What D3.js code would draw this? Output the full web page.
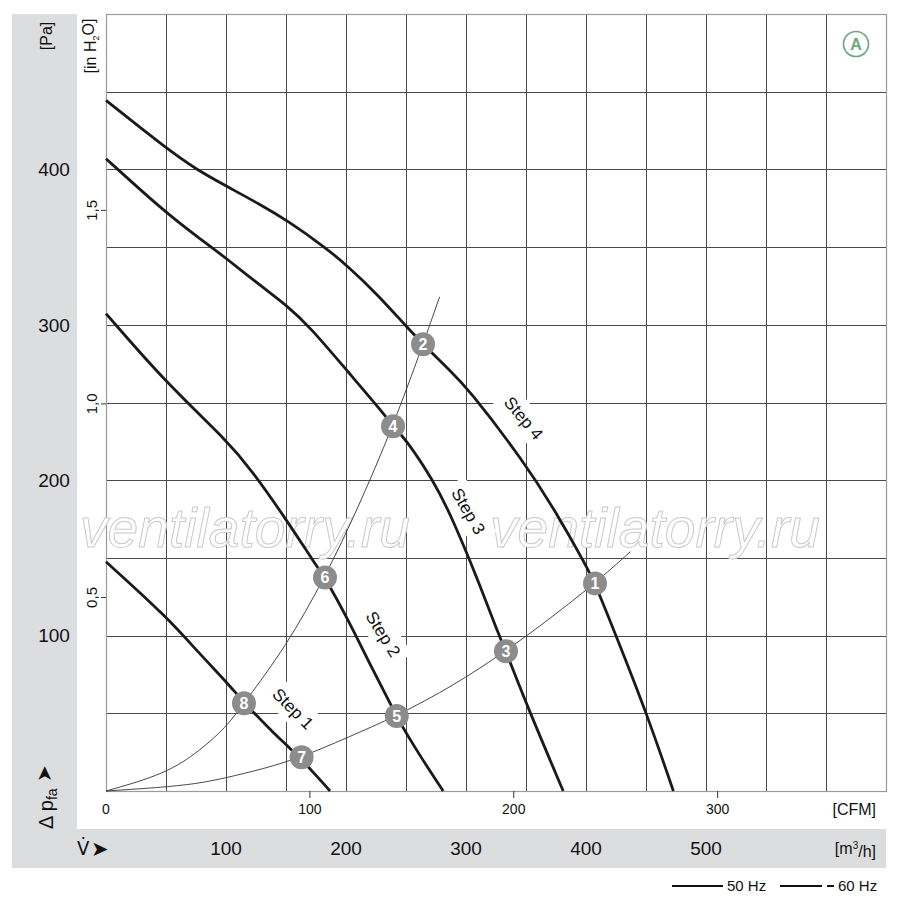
<!DOCTYPE html>
<html><head><meta charset="utf-8">
<script src="https://cdn.jsdelivr.net/npm/d3@7/dist/d3.min.js"></script>
<style>body{margin:0;background:#fff}svg{display:block}</style></head>
<body><svg id="chart" width="900" height="898"></svg>
<script>
// ---- data (flow m³/h, static pressure Pa) ----
const step1 = [[0,147.5],[50.6,112.1],[78.3,88],[100.6,70],[115,56.8],[140,37],[163,20.5],[186.7,0]];
const step2 = [[0,307.2],[50.6,262.2],[100.6,225.7],[121.4,206.4],[150.6,174.3],[174.2,146.1],[182.5,137.2],[200.6,112.1],[222.8,77.2],[238.1,54.6],[242.3,47.5],[260.3,24.2],[281,0]];
const step3 = [[0,406.9],[50.6,371.5],[78.3,355.4],[100.6,342.6],[128.3,325.4],[150.6,312.5],[170,298.6],[200.6,270.7],[230.8,243.5],[239.2,234.7],[250.6,225.7],[272.5,200],[286.7,178.8],[309,137.8],[328.3,98.4],[333.3,90],[350.6,55.3],[381,0]];
const step4 = [[0,444.4],[50.6,413.3],[75.6,399.8],[100.6,389.1],[128.3,377.5],[150.6,367.4],[183.9,349.1],[200.6,338.3],[225.6,320.1],[250.6,298.6],[264.2,287.5],[286.7,270.5],[300.6,260],[347.5,212.9],[375.6,178.8],[400.6,144.2],[407.5,133.6],[424.2,101.6],[450.6,50],[472.8,0]];
const systemHigh = [[0,0],[50,11],[78.3,26],[100,41],[115,56.4],[150,93],[182.5,137.4],[210,182],[239.2,234.7],[264.2,287.5],[278,318]];
const systemLow = [[0,0],[50,2.5],[78.3,5],[100,8.5],[130,14],[163,21.7],[200,34],[242.3,48.2],[290,68],[333.3,90],[370,111],[407.5,133.6],[437,154]];
const markerIds = [1,2,3,4,5,6,7,8];
const markerFlow = [407.5,264.2,333.3,239.2,242.3,182.5,163,115];
const markerPressure = [133.6,287.5,90,234.7,48.2,137.4,21.7,56.4];
const stepNames = ["Step 1","Step 2","Step 3","Step 4"];
const paTicks = [100,200,300,400];
const inH2OTicks = [0.5,1.0,1.5];
const inH2OLabels = ["0,5","1,0","1,5"];
const cfmTicks = [0,100,200,300];
const m3hTicks = [100,200,300,400,500];

// ---- layout ----
const L=106,R=886,T=14,B=791;
const x = d3.scaleLinear().domain([0,650]).range([L,R]);
const y = d3.scaleLinear().domain([0,500]).range([B,T]);
const xCFM = d3.scaleLinear().domain([0,650/1.699]).range([L,R]);
const yIn = d3.scaleLinear().domain([0,500/249.09]).range([B,T]);
const FONT = "'Liberation Sans', Arial, sans-serif";
const NARROW = "'Liberation Sans Narrow','Liberation Sans', Arial, sans-serif";

const svg = d3.select("#chart");
svg.append("rect").attr("width",900).attr("height",898).attr("fill","#fff");

// grey bands
svg.append("rect").attr("x",12).attr("y",14).attr("width",65).attr("height",815).attr("fill","#dcdddf");
svg.append("rect").attr("x",12).attr("y",829).attr("width",874).attr("height",39).attr("fill","#dcdddf");

// grid
const g = svg.append("g");
g.selectAll("line.vx").data(d3.range(50,650,50)).join("line")
  .attr("x1",d=>Math.round(x(d))+0.5).attr("x2",d=>Math.round(x(d))+0.5)
  .attr("y1",T).attr("y2",B).attr("stroke","#4a4a4a").attr("stroke-width",1);
g.selectAll("line.hy").data(d3.range(50,500,50)).join("line")
  .attr("y1",d=>Math.round(y(d))+0.5).attr("y2",d=>Math.round(y(d))+0.5)
  .attr("x1",L).attr("x2",R).attr("stroke","#4a4a4a").attr("stroke-width",1);
g.append("rect").attr("x",L+0.5).attr("y",T+0.5).attr("width",R-L).attr("height",B-T)
  .attr("fill","none").attr("stroke","#9a9a9a").attr("stroke-width",1.2);

// watermark
[80,490].forEach(wx=>{
  svg.append("text").attr("x",wx).attr("y",547).text("ventilatorry.ru")
    .attr("font-family",NARROW).attr("font-style","italic").attr("font-size",56)
    .attr("textLength",330).attr("lengthAdjust","spacingAndGlyphs")
    .attr("fill","#fff").attr("stroke","#c9c9c9").attr("stroke-width",1);
});

// step labels: white backgrounds
const labelPos = [[156,53,45],[231,101,58],[302,180,60],[348,240,50]]; // flow, pressure, angle
labelPos.forEach((p)=>{
  svg.append("rect").attr("x",-32).attr("y",-14).attr("width",64).attr("height",28)
    .attr("fill","#fff")
    .attr("transform",`translate(${x(p[0])},${y(p[1])}) rotate(${p[2]})`);
});

// ticks
svg.selectAll("line.tin").data(inH2OTicks).join("line")
  .attr("x1",L-5).attr("x2",L).attr("y1",d=>yIn(d)).attr("y2",d=>yIn(d))
  .attr("stroke","#333").attr("stroke-width",1);
svg.selectAll("line.tcfm").data(cfmTicks.slice(1)).join("line")
  .attr("x1",d=>xCFM(d)).attr("x2",d=>xCFM(d)).attr("y1",B).attr("y2",B+7)
  .attr("stroke","#333").attr("stroke-width",1);

// curves (B-spline smoothing of the read points)
const line = d3.line().x(d=>x(d[0])).y(d=>y(d[1])).curve(d3.curveBasis);
[systemHigh,systemLow].forEach(s=>{
  svg.append("path").attr("d",line(s)).attr("fill","none").attr("stroke","#333").attr("stroke-width",0.9);
});
[step1,step2,step3,step4].forEach(s=>{
  svg.append("path").attr("d",line(s)).attr("fill","none").attr("stroke","#1a1a1a")
    .attr("stroke-width",2.8).attr("stroke-linejoin","round");
});

// step labels
labelPos.forEach((p,i)=>{
  svg.append("text").text(stepNames[i])
    .attr("transform",`translate(${x(p[0])},${y(p[1])}) rotate(${p[2]})`)
    .attr("text-anchor","middle").attr("dy","0.35em")
    .attr("font-family",NARROW).attr("font-size",17).attr("font-weight","500").attr("fill","#111")
    .attr("textLength",50).attr("lengthAdjust","spacingAndGlyphs");
});

// markers
const mk = svg.selectAll("g.mk").data(markerIds).join("g")
  .attr("transform",(d,i)=>`translate(${x(markerFlow[i])},${y(markerPressure[i])})`);
mk.append("circle").attr("r",12).attr("fill","#8c8c8c");
mk.append("text").text(d=>d).attr("text-anchor","middle").attr("dy","0.37em")
  .attr("font-family",FONT).attr("font-weight","bold").attr("font-size",16).attr("fill","#fff");

// A badge
svg.append("circle").attr("cx",856).attr("cy",44).attr("r",12.5)
  .attr("fill","none").attr("stroke","#6ea77c").attr("stroke-width",1.6);
svg.append("text").attr("x",856).attr("y",44).attr("dy","0.36em").attr("text-anchor","middle")
  .text("A").attr("font-family",NARROW).attr("font-weight","bold").attr("font-size",16).attr("fill","#6ea77c");

// Pa labels
svg.selectAll("text.pa").data(paTicks).join("text")
  .attr("x",54).attr("y",d=>y(d)).attr("dy","0.36em").attr("text-anchor","middle")
  .text(d=>d).attr("font-family",FONT).attr("font-size",19).attr("fill","#111");
// in H2O labels
svg.selectAll("text.inh").data(inH2OTicks).join("text")
  .attr("transform",d=>`translate(97,${yIn(d)}) rotate(-90)`).attr("text-anchor","middle")
  .text((d,i)=>inH2OLabels[i]).attr("font-family",FONT).attr("font-size",15).attr("fill","#111");
// CFM labels
svg.selectAll("text.cfm").data(cfmTicks).join("text")
  .attr("x",d=>xCFM(d)).attr("y",809).attr("dy","0.36em").attr("text-anchor","middle")
  .text(d=>d).attr("font-family",FONT).attr("font-size",14).attr("fill","#111");
svg.append("text").attr("x",876).attr("y",809).attr("dy","0.36em").attr("text-anchor","end")
  .text("[CFM]").attr("font-family",NARROW).attr("font-size",16).attr("fill","#111");
// m3/h labels
svg.selectAll("text.m3").data(m3hTicks).join("text")
  .attr("x",d=>x(d)).attr("y",848).attr("dy","0.36em").attr("text-anchor","middle")
  .text(d=>d).attr("font-family",FONT).attr("font-size",19).attr("fill","#111");
const m3 = svg.append("text").attr("x",876).attr("y",848).attr("dy","0.36em").attr("text-anchor","end")
  .attr("font-family",NARROW).attr("font-size",16).attr("fill","#111");
m3.append("tspan").text("[m");
m3.append("tspan").text("3").attr("font-size",10).attr("dy","-0.5em");
m3.append("tspan").text("/h]").attr("dy","0.5em");

// axis titles
svg.append("text").attr("transform","translate(52,36) rotate(-90)").attr("text-anchor","middle")
  .text("[Pa]").attr("font-family",NARROW).attr("font-size",16).attr("fill","#111");
const inh = svg.append("text").attr("transform","translate(96,46) rotate(-90)").attr("text-anchor","middle")
  .attr("font-family",NARROW).attr("font-size",16).attr("fill","#111");
inh.append("tspan").text("[in H");
inh.append("tspan").text("2").attr("font-size",9).attr("dy","0.3em");
inh.append("tspan").text("O]").attr("dy","-0.3em");

const dp = svg.append("text").attr("transform","translate(53,829) rotate(-90)")
  .attr("font-family",FONT).attr("font-size",20).attr("fill","#111");
dp.append("tspan").text("Δ p");
dp.append("tspan").text("fa").attr("font-size",14).attr("dy","0.3em");
dp.append("tspan").text(" ➤").attr("dy","-0.3em").attr("font-family","'DejaVu Sans',sans-serif").attr("font-size",20);

svg.append("text").attr("x",77).attr("y",855).text("V̇")
  .attr("font-family","'DejaVu Sans Condensed','DejaVu Sans',sans-serif").attr("font-size",20).attr("fill","#111");
svg.append("text").attr("x",91).attr("y",856).text("➤")
  .attr("font-family","'DejaVu Sans',sans-serif").attr("font-size",21).attr("fill","#111");

// legend
svg.append("line").attr("x1",672).attr("x2",723).attr("y1",886).attr("y2",886).attr("stroke","#111").attr("stroke-width",2);
svg.append("text").attr("x",727).attr("y",891).text("50 Hz").attr("font-family",NARROW).attr("font-size",15).attr("fill","#111");
svg.append("line").attr("x1",780).attr("x2",834).attr("y1",886).attr("y2",886).attr("stroke","#111").attr("stroke-width",2)
  .attr("stroke-dasharray","42,5,7");
svg.append("text").attr("x",838).attr("y",891).text("60 Hz").attr("font-family",NARROW).attr("font-size",15).attr("fill","#111");
</script></body></html>
